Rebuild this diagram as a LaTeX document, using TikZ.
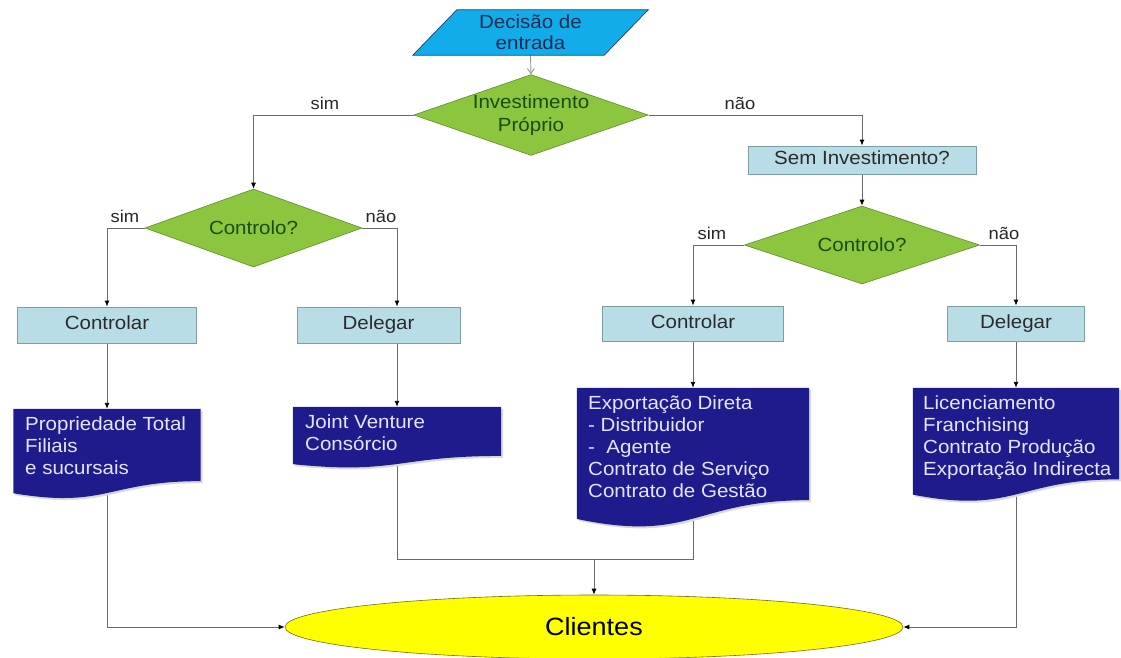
\documentclass[tikz,border=0pt]{standalone}
\usepackage{fontspec}
\setmainfont{Liberation Sans}[FakeStretch=1.08]
\usetikzlibrary{shapes.geometric,arrows.meta,calc}
\pgfdeclarelayer{bg}
\pgfdeclarelayer{mid}
\pgfsetlayers{bg,mid,main}
\definecolor{para}{HTML}{12ACEB}
\definecolor{paraborder}{HTML}{1F3C6E}
\definecolor{paratext}{HTML}{1C2B50}
\definecolor{dgreen}{HTML}{8CC63F}
\definecolor{dgreenborder}{HTML}{5E8C2C}
\definecolor{dtext}{HTML}{1E4A12}
\definecolor{boxfill}{HTML}{B8DDE6}
\definecolor{boxborder}{HTML}{7E9EA6}
\definecolor{boxtext}{HTML}{2B2B2B}
\definecolor{navy}{HTML}{1E1C8C}
\definecolor{linegray}{HTML}{6A6A6A}
\definecolor{clyellow}{HTML}{FFFF00}
\definecolor{clborder}{HTML}{6E6E20}
\newcommand\mydocshape[1]{%
  \fill[black!15] ([shift={(2,2)}]#1.north west) -- ([shift={(2,2)}]#1.north east)
    -- ([shift={(2,2)}]$(#1.north east)!0.80!(#1.south east)$)
    .. controls ([shift={(2,2)}]$(#1.north)!0.80!(#1.south)$) and ([shift={(2,2)}]$(#1.north)!1.107!(#1.south)$)
    .. ([shift={(2,2)}]$(#1.north west)!0.934!(#1.south west)$) -- cycle;
  \fill[navy] (#1.north west) -- (#1.north east)
    -- ($(#1.north east)!0.80!(#1.south east)$)
    .. controls ($(#1.north)!0.80!(#1.south)$) and ($(#1.north)!1.107!(#1.south)$)
    .. ($(#1.north west)!0.934!(#1.south west)$) -- cycle;}
\begin{document}
\begin{tikzpicture}[x=1pt,y=-1pt,
  conn/.style={draw=linegray, line width=0.9pt},
  arr/.style={conn, -{Latex[length=6pt,width=5pt,color=black]}},
  decision/.style={diamond, draw=dgreenborder, fill=dgreen, line width=0.6pt, inner sep=0pt,
    text=dtext, align=center, font=\fontsize{19}{23}\selectfont},
  procbox/.style={rectangle, draw=boxborder, fill=boxfill, line width=0.8pt, inner sep=0pt,
    text=boxtext, text height=13.5pt, text depth=4pt, font=\fontsize{19}{22}\selectfont},
  docbox/.style={rectangle, draw=none, inner sep=0pt},
  doctext/.style={anchor=north west, inner sep=0pt, text=white!90!blue, align=left,
    font=\fontsize{19}{22}\selectfont},
  lbl/.style={inner sep=0pt, text=black!85, font=\fontsize{17}{20}\selectfont}]
\useasboundingbox (0,0) rectangle (1121,657);

% input parallelogram
\node[rectangle, draw=none, inner sep=0pt, minimum width=191pt, minimum height=45pt,
  text=paratext, align=center, font=\fontsize{19}{21}\selectfont] (dec) at (530.5,32.5) {Decisão de\\entrada};
\begin{pgfonlayer}{mid}
\draw[fill=para, draw=paraborder, line width=0.7pt]
  ([xshift=-22pt]dec.south west) -- ([xshift=-22pt]dec.south east)
  -- ([xshift=22pt]dec.north east) -- ([xshift=22pt]dec.north west) -- cycle;
\end{pgfonlayer}

% decisions
\node[decision, minimum width=232pt, minimum height=80pt, shape aspect=2.9] (inv) at (531,115) {Investimento\\Próprio};
\node[decision, minimum width=217pt, minimum height=78pt, shape aspect=2.8] (c1) at (253.5,228) {Controlo?};
\node[decision, minimum width=235pt, minimum height=78pt, shape aspect=3] (c2) at (862,245) {Controlo?};

% process boxes
\node[procbox, minimum width=228pt, minimum height=28pt] (sem) at (862,160) {Sem Investimento?};
\node[procbox, minimum width=179pt, minimum height=36pt] (ctl1) at (107,325) {Controlar};
\node[procbox, minimum width=163pt, minimum height=36pt] (dl1) at (378.5,325) {Delegar};
\node[procbox, minimum width=181pt, minimum height=35pt] (ctl2) at (693,323.5) {Controlar};
\node[procbox, minimum width=137pt, minimum height=35pt] (dl2) at (1016,323.5) {Delegar};

% documents
\node[docbox, minimum width=187pt, minimum height=90pt] (pt) at (107,454) {};
\node[docbox, minimum width=208pt, minimum height=61pt] (jv) at (397,437.5) {};
\node[docbox, minimum width=232pt, minimum height=140pt] (ex) at (693,458) {};
\node[docbox, minimum width=206pt, minimum height=114pt] (lic) at (1016,445) {};
\begin{pgfonlayer}{mid}
\mydocshape{pt}
\mydocshape{jv}
\mydocshape{ex}
\mydocshape{lic}
\end{pgfonlayer}
\node[doctext] (ptt) at (25,417) {Propriedade Total\\Filiais\\e sucursais};
\node[doctext] (jvt) at (305,415) {Joint Venture\\Consórcio};
\node[doctext] (ext) at (588,396) {Exportação Direta\\- Distribuidor\\-\ \ Agente\\Contrato de Serviço\\Contrato de Gestão};
\node[doctext] (lict) at (923,396) {Licenciamento\\Franchising\\Contrato Produção\\Exportação Indirecta};

% terminal
\node[ellipse, draw=clborder, fill=clyellow, line width=0.6pt, minimum width=618pt, minimum height=64pt,
  inner sep=0pt, font=\fontsize{25}{28}\selectfont] (cl) at (594,627) {Clientes};

% labels
\node[lbl] (l1) at (325,103) {sim};
\node[lbl] (l2) at (740,103) {não};
\node[lbl] (l3) at (125,216) {sim};
\node[lbl] (l4) at (381,216) {não};
\node[lbl] (l5) at (712,233) {sim};
\node[lbl] (l6) at (1004,233) {não};

\coordinate (jn) at (594,559);

\begin{pgfonlayer}{bg}
\draw[conn, draw=gray!80, -{Straight Barb[length=5pt,width=7pt]}] (dec.south) -- (inv.north);
\draw[arr] (inv.west) -| (c1.north);
\draw[arr] (inv.east) -| (sem.north);
\draw[arr] (sem.south) -- (c2.north);
\draw[arr] (c1.west) -| (ctl1.north);
\draw[arr] (c1.east) -| (dl1.north -| jv.north);
\draw[arr] (dl1.south -| jv.north) -- (jv.north);
\draw[arr] (c2.west) -| (ctl2.north);
\draw[arr] (c2.east) -| (dl2.north);
\draw[arr] (ctl1.south) -- (pt.north);
\draw[arr] (ctl2.south) -- (ex.north);
\draw[arr] (dl2.south) -- (lic.north);
\draw[arr] (pt.center) |- (cl.west);
\draw[arr] (lic.center) |- (cl.east);
\draw[conn] (jv.center) |- (jn) -| (ex.center);
\draw[arr] (jn) -- (cl.north);
\end{pgfonlayer}
\end{tikzpicture}
\end{document}
